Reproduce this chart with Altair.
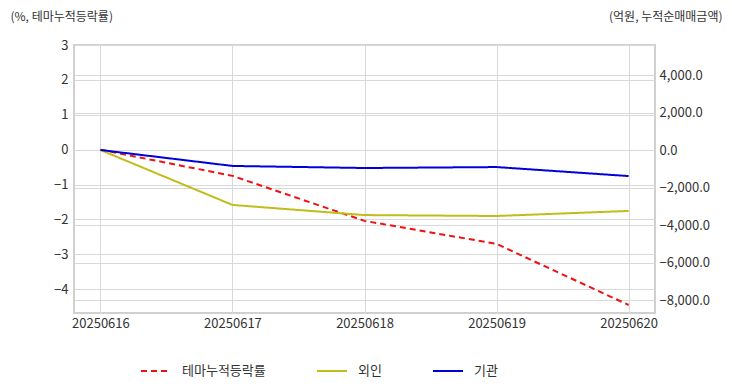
import altair as alt
import pandas as pd

dates = ["20250616", "20250617", "20250618", "20250619", "20250620"]
theme_pct = [0.0, -0.75, -2.04, -2.70, -4.45]
foreign = [0.0, -2930.0, -3470.0, -3520.0, -3250.0]
inst = [0.0, -850.0, -960.0, -910.0, -1390.0]

series_names = ["테마누적등락률", "외인", "기관"]
series_colors = ["#ee1111", "#c0bd1a", "#0000dd"]
series_dash = [[6, 4], [1, 0], [1, 0]]

left_df = pd.DataFrame({"date": dates, "value": theme_pct, "series": series_names[0]})
right_df = pd.concat([
    pd.DataFrame({"date": dates, "value": foreign, "series": series_names[1]}),
    pd.DataFrame({"date": dates, "value": inst, "series": series_names[2]}),
])

FONT = "Noto Sans CJK KR"

x_enc = alt.X("date:N", sort=dates, scale=alt.Scale(type="point", padding=0.2),
              axis=alt.Axis(title=None, labelAngle=0, grid=True, ticks=False, domain=False,
                            labelPadding=4, labelFontSize=13))

legend_kw = dict(title=None, orient="none", legendX=66, legendY=310, direction="horizontal",
                 symbolType="stroke", symbolSize=900, symbolStrokeWidth=2,
                 labelFontSize=13, labelOffset=10, columnPadding=47)

color_enc = alt.Color("series:N", scale=alt.Scale(domain=series_names, range=series_colors),
                      legend=alt.Legend(**legend_kw))
dash_enc = alt.StrokeDash("series:N", scale=alt.Scale(domain=series_names, range=series_dash),
                          legend=alt.Legend(**legend_kw))

left = alt.Chart(left_df).mark_line(strokeWidth=2).encode(
    x=x_enc,
    y=alt.Y("value:Q", scale=alt.Scale(domain=[-4.68, 3], nice=False, zero=False),
            axis=alt.Axis(title="(%, 테마누적등락률)", titleAngle=0, titleAlign="left",
                          titleBaseline="alphabetic",
                          titleX=-64, titleY=-25, titleFontWeight="normal", titleFontSize=12,
                          values=[3, 2, 1, 0, -1, -2, -3, -4], format="d", grid=True,
                          ticks=False, domain=False, labelPadding=6, labelFontSize=13)),
    color=color_enc,
    strokeDash=dash_enc,
)

right = alt.Chart(right_df).mark_line(strokeWidth=2).encode(
    x=x_enc,
    y=alt.Y("value:Q", scale=alt.Scale(domain=[-8693, 5600], nice=False, zero=False),
            axis=alt.Axis(title="(억원, 누적순매매금액)", orient="right", titleAngle=0,
                          titleAlign="right", titleBaseline="alphabetic",
                          titleX=67, titleY=-25, titleFontWeight="normal",
                          titleFontSize=12, values=[4000, 2000, 0, -2000, -4000, -6000, -8000],
                          format=",.1f", grid=True, ticks=False, domain=False, labelPadding=4,
                          labelFontSize=13)),
    color=color_enc,
    strokeDash=dash_enc,
)

chart = alt.layer(left, right).resolve_scale(y="independent").properties(
    width=581, height=268,
    autosize=alt.AutoSizeParams(type="none"),
    padding={"left": 66, "top": 37, "right": 68, "bottom": 71},
).configure_view(stroke="#d0d0d0", strokeWidth=2).configure_axis(
    gridColor="#d9d9d9", labelColor="#333333", titleColor="#333333",
    labelFont=FONT, titleFont=FONT,
).configure_legend(labelFont=FONT, labelColor="#333333")

chart.save("out.html", embed_options={"renderer": "svg", "actions": False})
